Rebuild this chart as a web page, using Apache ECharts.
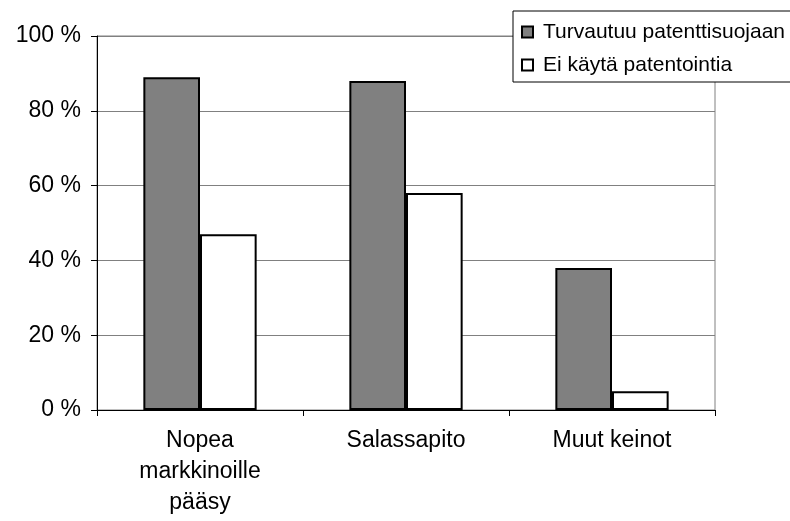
<!DOCTYPE html>
<html>
<head>
<meta charset="utf-8">
<script src="https://cdn.jsdelivr.net/npm/echarts@6/dist/echarts.min.js"></script>
<style>
  html, body { margin: 0; padding: 0; background: #fff; }
  #chart { width: 790px; height: 521px; }
</style>
</head>
<body>
<div id="chart"></div>
<script>
// kategoriat ja sarjat
const categories = ['Nopea\nmarkkinoille\npääsy', 'Salassapito', 'Muut keinot'];
const seriesNames = ['Turvautuu patenttisuojaan', 'Ei käytä patentointia'];
const patentUsers = [89, 88, 38];
const nonPatentUsers = [47, 58, 5];
const yTicks = [0, 20, 40, 60, 80, 100];

const font = 'Liberation Sans, Arial, sans-serif';
const chart = echarts.init(document.getElementById('chart'));

const options = {
  animation: false,
  backgroundColor: '#fff',
  grid: {
    left: 97, right: 75, top: 36, bottom: 111,
    show: true, borderColor: '#808080', borderWidth: 1
  },
  legend: {
    orient: 'vertical',
    left: 513, top: 11,
    backgroundColor: '#fff',
    borderColor: '#000', borderWidth: 1, borderRadius: 0,
    padding: [10, 40, 6, 8],
    itemWidth: 11, itemHeight: 11, itemGap: 11,
    icon: 'rect',
    textStyle: { fontFamily: font, fontSize: 21, color: '#000', lineHeight: 22, padding: [0, 0, 0, 5] },
    data: seriesNames
  },
  xAxis: {
    type: 'category',
    data: categories,
    axisLine: { lineStyle: { color: '#000', width: 1 } },
    axisTick: { show: true, length: 6, lineStyle: { color: '#000' } },
    axisLabel: { fontFamily: font, fontSize: 23, color: '#000', lineHeight: 31, margin: 15, interval: 0 }
  },
  yAxis: {
    type: 'value',
    min: yTicks[0], max: yTicks[yTicks.length - 1], interval: 20,
    axisLine: { show: true, lineStyle: { color: '#000', width: 1 } },
    axisTick: { show: true, length: 6, lineStyle: { color: '#000' } },
    axisLabel: { fontFamily: font, fontSize: 23, color: '#000', margin: 16, formatter: '{value} %' },
    splitLine: { lineStyle: { color: '#808080', width: 1 } }
  },
  series: [
    {
      name: seriesNames[0], type: 'bar', data: patentUsers,
      barCategoryGap: '45%', barGap: '0%',
      itemStyle: { color: '#808080', borderColor: '#000', borderWidth: 2 }
    },
    {
      name: seriesNames[1], type: 'bar', data: nonPatentUsers,
      barCategoryGap: '45%', barGap: '0%',
      itemStyle: { color: '#fff', borderColor: '#000', borderWidth: 2 }
    }
  ]
};
chart.setOption(options);
</script>
</body>
</html>
